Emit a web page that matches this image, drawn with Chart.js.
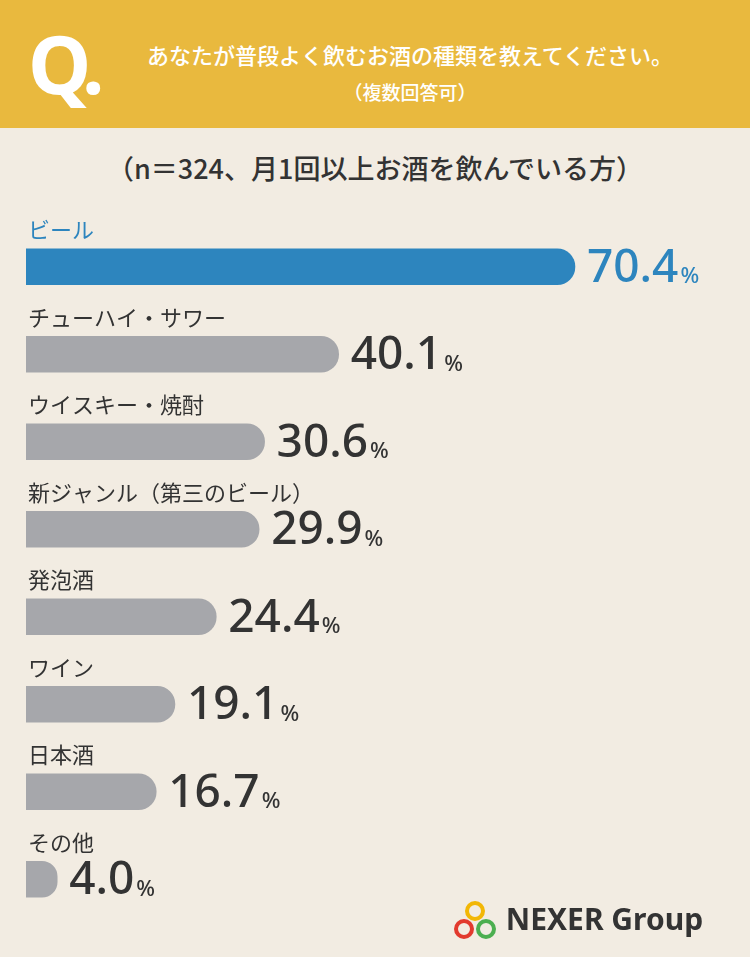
<!DOCTYPE html>
<html><head><meta charset="utf-8">
<script src="https://cdn.jsdelivr.net/npm/chart.js@4"></script>
<style>
body{margin:0;width:750px;height:957px;background:#F2ECE2;font-family:"Noto Sans CJK JP","Noto Sans",sans-serif;position:relative;overflow:hidden}
#head{position:absolute;left:0;top:0;width:750px;height:128px;background:#E9B93E}
#q{position:absolute;left:28px;top:8px;color:#fff;font:bold 80px "Noto Sans",sans-serif;letter-spacing:-6px}
#t1{position:absolute;left:110px;top:38px;width:600px;text-align:center;color:#fff;font-size:22px;font-weight:500}
#t2{position:absolute;left:110px;top:78px;width:600px;text-align:center;color:#fff;font-size:19px;font-weight:500}
#sub{position:absolute;left:0;top:148px;width:750px;text-align:center;color:#333;font-size:27px;font-weight:500}
#wrap{position:absolute;left:0;top:200px;width:750px;height:730px}
#logo{position:absolute;left:452px;top:898px;font:bold 30px "Noto Sans",sans-serif;color:#333}
</style></head><body>
<div id="head"><div id="q">Q.</div><div id="t1">あなたが普段よく飲むお酒の種類を教えてください。</div><div id="t2">（複数回答可）</div></div>
<div id="sub">（n＝324、月1回以上お酒を飲んでいる方）</div>
<div id="wrap"><canvas id="c" width="750" height="730"></canvas></div>
<div id="logo"><svg width="46" height="46" viewBox="0 0 46 46" style="vertical-align:middle"><circle cx="23" cy="12" r="8" fill="none" stroke="#F2B705" stroke-width="4"/><circle cx="12" cy="30" r="8" fill="none" stroke="#E23A2E" stroke-width="4"/><circle cx="34" cy="30" r="8" fill="none" stroke="#4CAF50" stroke-width="4"/></svg> NEXER Group</div>
<script>
const categories = ['ビール','チューハイ・サワー','ウイスキー・焼酎','新ジャンル（第三のビール）','発泡酒','ワイン','日本酒','その他'];
const values = [70.4, 40.1, 30.6, 29.9, 24.4, 19.1, 16.7, 4.0];
const blue = '#2D85BE', gray = '#A6A7AB';
const colors = values.map((v, i) => i === 0 ? blue : gray);

const labelPlugin = {
  id: 'labels',
  afterDatasetsDraw(chart) {
    const ctx = chart.ctx;
    const meta = chart.getDatasetMeta(0);
    meta.data.forEach((bar, i) => {
      const col = i === 0 ? blue : '#333';
      ctx.fillStyle = col;
      ctx.font = '22px "Noto Sans CJK JP"';
      ctx.textBaseline = 'middle';
      ctx.textAlign = 'left';
      ctx.fillText(categories[i], 28, bar.y - 37);
      ctx.font = '500 46px "Noto Sans","Noto Sans CJK JP"';
      const s = values[i].toFixed(1);
      ctx.fillText(s, bar.x + 12, bar.y + 2);
      const w = ctx.measureText(s).width;
      ctx.font = '500 22px "Noto Sans"';
      ctx.fillText('%', bar.x + 14 + w, bar.y + 10);
    });
  }
};

new Chart(document.getElementById('c'), {
  type: 'bar',
  data: { labels: categories, datasets: [{ data: values, backgroundColor: colors, barThickness: 36,
    borderRadius: { topRight: 18, bottomRight: 18 }, borderSkipped: false }] },
  options: {
    indexAxis: 'y', responsive: false, animation: false,
    layout: { padding: { left: 26, right: 0, top: 23, bottom: 7 } },
    plugins: { legend: { display: false }, tooltip: { enabled: false } },
    scales: { x: { display: false, min: 0, max: 92.85 }, y: { display: false } }
  },
  plugins: [labelPlugin]
});
</script>
</body></html>
